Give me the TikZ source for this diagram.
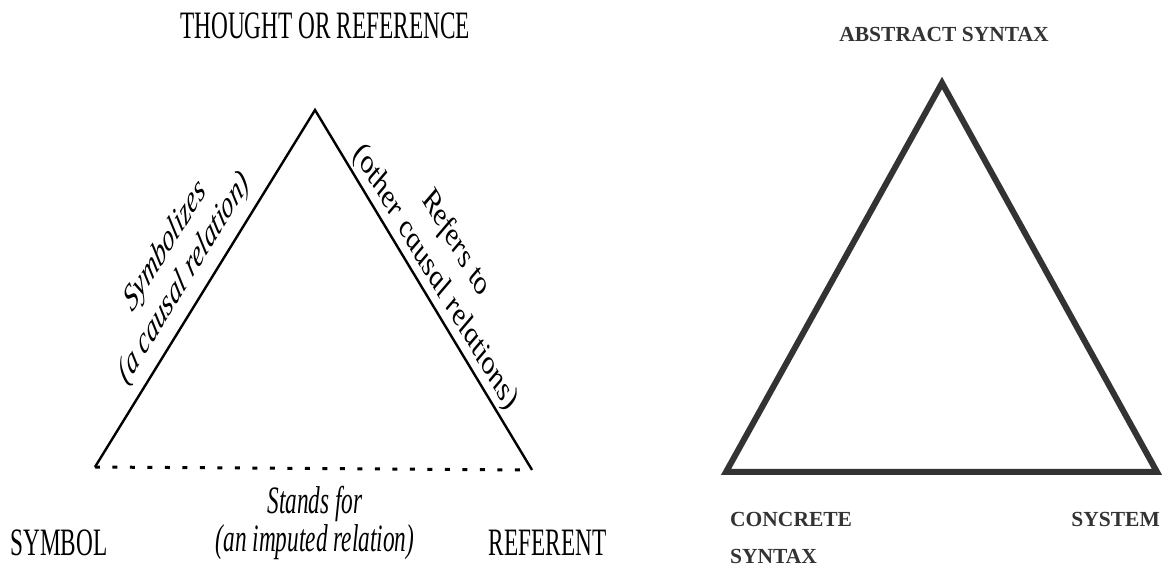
\documentclass[tikz,border=0pt]{standalone}
\usepackage{fontspec}
\setmainfont{Liberation Serif}
\definecolor{tgray}{HTML}{333333}
\begin{document}
\begin{tikzpicture}[x=1pt,y=1pt,
  oglab/.style={inner sep=0pt, font=\fontsize{38.8}{46}\selectfont},
  ogit/.style={inner sep=0pt, align=center, font=\fontsize{38.8}{45}\selectfont\itshape},
  ogedge/.style={line width=2.4pt, line join=miter},
  ogdots/.style={line width=3pt, dash pattern=on 5pt off 12.5pt},
  triedge/.style={line width=6pt, draw=tgray, line join=miter},
  trilab/.style={inner sep=0pt, text=tgray, font=\fontsize{21.5}{26}\selectfont\bfseries}]
\useasboundingbox[fill=white] (0,0) rectangle (1165,567);
% ---- left: semiotic triangle (horizontally compressed) ----
\begin{scope}[xscale=0.6, transform shape]
  \coordinate (T) at (525,457);
  \coordinate (S) at (158.3,100);
  \coordinate (R) at (886.7,97);
  \draw[ogedge] (S) -- (T) -- (R);
  \draw[ogdots] (S) -- (R);
  \node[oglab, anchor=base] (title) at (541.7,528) {THOUGHT OR REFERENCE};
  \node[oglab, anchor=base] (sym) at (98.3,11) {SYMBOL};
  \node[oglab, anchor=base] (ref) at (913,11) {REFERENT};
  \node[ogit, anchor=base] (st1) at (525,53) {Stands for};
  \node[ogit, anchor=base] (st2) at (525,15) {(an imputed relation)};
  \node[ogit, rotate=44.2] (sy) at (291.7,304.5) {Symbolizes\\(a causal relation)};
  \node[ogit, rotate=-44.9, font=\fontsize{38.8}{48}\selectfont\itshape] (rf) at (742.5,306.5) {Refers to\\(other causal relations)};
\end{scope}
% ---- right: syntax triangle ----
\coordinate (A) at (942,484);
\coordinate (C) at (726,95);
\coordinate (Y) at (1157,95);
\draw[triedge] (A) -- (C) -- (Y) -- cycle;
\node[trilab, anchor=base] (abs) at (944,525) {ABSTRACT SYNTAX};
\node[trilab, anchor=base west] (con) at (730,40) {CONCRETE};
\node[trilab, anchor=base west] (syn) at (730,3) {SYNTAX};
\node[trilab, anchor=base east] (sys) at (1160,40) {SYSTEM};
\end{tikzpicture}
\end{document}
